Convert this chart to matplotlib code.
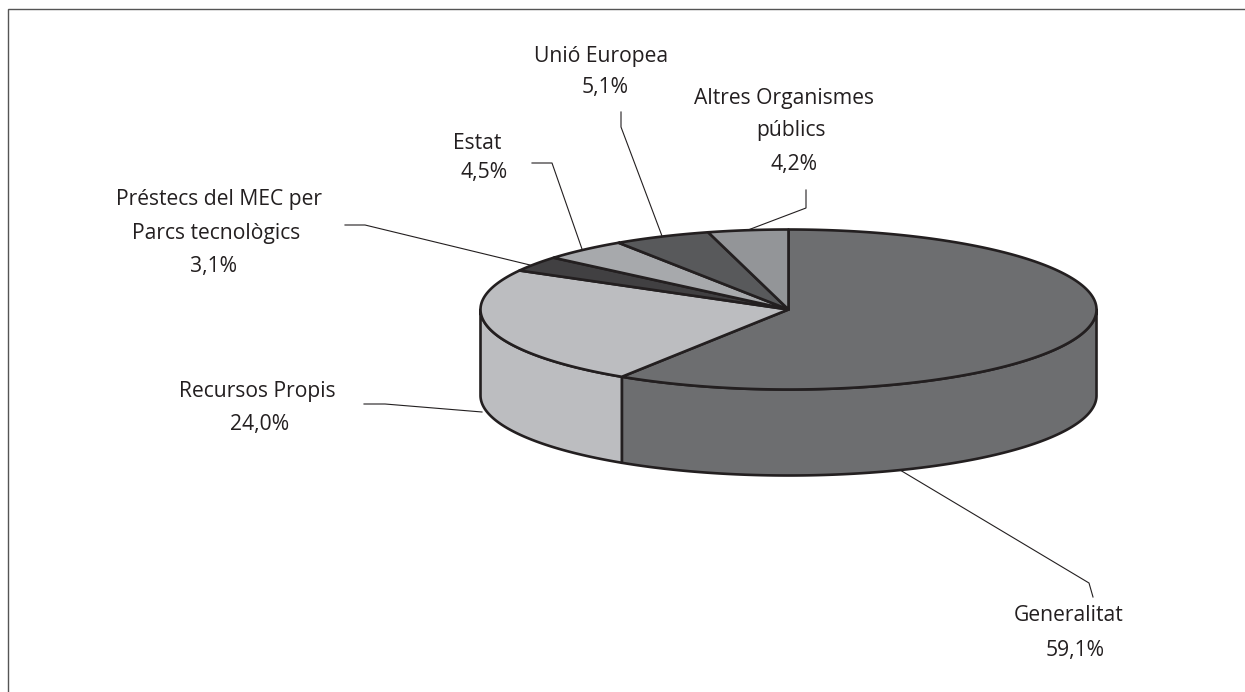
# Pseudo-3D pie of funding sources, drawn from the shares
import numpy as np
import matplotlib.pyplot as plt
from matplotlib.patches import Polygon

plt.rcParams['font.family'] = ['Open Sans', 'DejaVu Sans']

# Data, clockwise from 12 o'clock
sources = ['Generalitat', 'Recursos Propis', 'Préstecs del MEC per\nParcs tecnològics',
           'Estat', 'Unió Europea', 'Altres Organismes\npúblics']
shares = [59.1, 24.0, 3.1, 4.5, 5.1, 4.2]
share_labels = ['59,1%', '24,0%', '3,1%', '4,5%', '5,1%', '4,2%']
colors = ['#6d6e70', '#bcbdc0', '#414042', '#a7a9ac', '#58595b', '#939598']

# Centre x and baseline y of every label line, in image pixels
label_pos = [
    [(1069, 621), (1075, 656)],
    [(257, 397), (260, 430)],
    [(219, 205), (216, 239), (213.5, 272)],
    [(477, 149), (484, 178)],
    [(601, 62), (605, 93)],
    [(784, 104), (791, 136), (794, 170)],
]
leaders = [
    [(900, 470), (1089, 583), (1093, 597)],
    [(482, 412), (385, 404), (364, 404)],
    [(530, 265), (365, 225), (345, 225)],
    [(582, 249), (552, 163), (532, 163)],
    [(662, 236), (621, 127), (621, 112)],
    [(748, 230), (806, 208), (806, 190)],
]

W, H = 1245, 692
CX, CY, RX, RY, DEPTH = 788.5, 309.5, 308, 80, 86
EDGE = '#231f20'

fig = plt.figure(figsize=(W / 100, H / 100), dpi=100)
ax = fig.add_axes([0, 0, 1, 1])
ax.set_xlim(0, W)
ax.set_ylim(H, 0)
ax.axis('off')


def rim(a, b, dy=0):
    t = np.radians(np.linspace(a, b, max(int(abs(b - a)) * 2, 2)))
    return np.column_stack([CX + RX * np.sin(t), CY + dy - RY * np.cos(t)])


edges = np.cumsum([0] + shares) / sum(shares) * 360

# Side walls, only the front half of the disc shows
for i, c in enumerate(colors):
    a, b = max(edges[i], 90), min(edges[i + 1], 270)
    if a < b:
        wall = np.vstack([rim(a, b), rim(a, b, DEPTH)[::-1]])
        ax.add_patch(Polygon(wall, closed=True, fc=c, ec=EDGE, lw=1.9, joinstyle='round', zorder=2))

# Top slices
for i, c in enumerate(colors):
    top = np.vstack([[(CX, CY)], rim(edges[i], edges[i + 1])])
    ax.add_patch(Polygon(top, closed=True, fc=c, ec=EDGE, lw=1.9, joinstyle='round', zorder=3))

# Leaders
for pts in leaders:
    xs, ys = zip(*pts)
    ax.plot(xs, ys, color=EDGE, lw=0.8, zorder=1)

# Labels, each line placed on its own
for name, val, places in zip(sources, share_labels, label_pos):
    for line, (x, y) in zip(name.split('\n') + [val], places):
        ax.text(x, y, line, ha='center', va='baseline', fontsize=15.2, color=EDGE)

# Open frame, top and left only
ax.plot([8, 8, W], [H, 9, 9], color='#555555', lw=1.0, solid_joinstyle='miter')

fig.savefig('out.png', dpi=100)
